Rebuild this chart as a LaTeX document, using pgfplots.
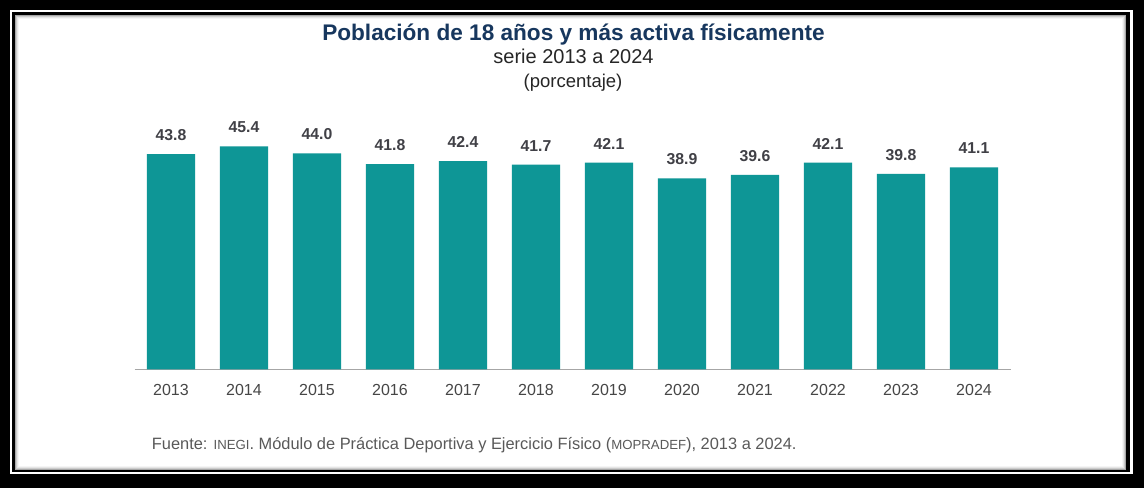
\documentclass[border=0pt]{standalone}
\usepackage{pgfplots}
\pgfplotsset{compat=1.18}
\usepackage{fontspec}
\setmainfont{Liberation Sans}
\definecolor{teal1}{RGB}{14,150,150}
\definecolor{navy}{RGB}{23,55,94}
\definecolor{lblgray}{RGB}{64,64,70}
\definecolor{tickgray}{RGB}{70,70,70}
\definecolor{srcgray}{RGB}{89,89,89}
\definecolor{axgray}{RGB}{166,166,166}
\begin{document}
\begin{tikzpicture}[x=1pt,y=1pt]
% frame
\fill[black] (0,0) rectangle (1144,488);
\fill[white] (9.5,14) rectangle (1132.5,478);
\fill[black] (12,16) rectangle (1130,475.5);
\fill[white] (15,18) rectangle (1126,472.5);
\draw[black!35,line width=1pt] (15.5,18.5) rectangle (1125.5,472);
\draw[black!20,line width=1pt] (16.5,19.5) rectangle (1124.5,471);
\draw[black!10,line width=1pt] (17.5,20.5) rectangle (1123.5,470);
\draw[black!4,line width=1pt] (18.5,21.5) rectangle (1122.5,469);
\path (0,0) rectangle (1144,488);
% titles
\node[anchor=base,text=navy,font=\fontsize{22.6}{26}\selectfont\bfseries,inner sep=0] at (573.5,447.5) {Población de 18 años y más activa físicamente};
\node[anchor=base,text=black!85,font=\fontsize{20}{24}\selectfont,inner sep=0] at (573.5,424) {serie 2013 a 2024};
\node[anchor=base,text=black!85,font=\fontsize{18.5}{22}\selectfont,inner sep=0] at (573,400.5) {(porcentaje)};
% source
\node[anchor=base west,text=srcgray,font=\fontsize{16.4}{20}\selectfont,inner sep=0] at (151.7,38.5) {Fuente: {\fontsize{13.2}{16}\selectfont INEGI}. Módulo de Práctica Deportiva y Ejercicio Físico ({\fontsize{13.2}{16}\selectfont MOPRADEF}), 2013 a 2024.};
\begin{axis}[
  at={(134.5pt,118.7pt)}, anchor=south west,
  scale only axis, width=876pt, height=245.5pt,
  xmin=-0.5, xmax=11.5, ymin=0, ymax=50,
  axis y line=none,
  axis x line*=bottom,
  x axis line style={axgray, line width=1.2pt, -},
  xtick=data,
  xticklabels={2013,2014,2015,2016,2017,2018,2019,2020,2021,2022,2023,2024},
  major tick length=0pt,
  xticklabel style={anchor=base, yshift=-25.7pt, text=tickgray, font=\fontsize{16}{19}\selectfont, inner sep=0},
  /pgf/number format/assume math mode=true,
  ybar, bar width=48.3pt,
  nodes near coords,
  nodes near coords style={anchor=base, yshift=13.5pt, text=lblgray, font=\fontsize{15.8}{19}\selectfont\bfseries, inner sep=0, /pgf/number format/.cd, fixed, fixed zerofill, precision=1},
  clip=false,
]
\addplot[fill=teal1, draw=none] coordinates {
(0,43.8) (1,45.4) (2,44.0) (3,41.8) (4,42.4) (5,41.7) (6,42.1) (7,38.9) (8,39.6) (9,42.1) (10,39.8) (11,41.1)
};
\end{axis}
\end{tikzpicture}
\end{document}
